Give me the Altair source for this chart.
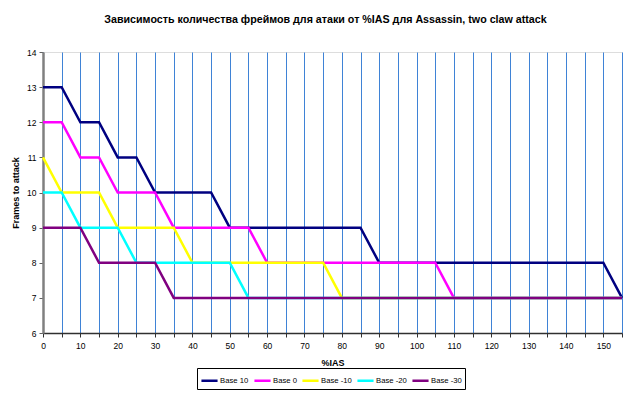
import altair as alt
import pandas as pd

ias = [0, 5, 10, 15, 20, 25, 30, 35, 40, 45, 50, 55, 60, 65, 70, 75,
       80, 85, 90, 95, 100, 105, 110, 115, 120, 125, 130, 135, 140, 145, 150, 155]

base_10 = [13, 13, 12, 12, 11, 11, 10, 10, 10, 10, 9, 9, 9, 9, 9, 9,
           9, 9, 8, 8, 8, 8, 8, 8, 8, 8, 8, 8, 8, 8, 8, 7]
base_0 = [12, 12, 11, 11, 10, 10, 10, 9, 9, 9, 9, 9, 8, 8, 8, 8,
          8, 8, 8, 8, 8, 8, 7, 7, 7, 7, 7, 7, 7, 7, 7, 7]
base_m10 = [11, 10, 10, 10, 9, 9, 9, 9, 8, 8, 8, 8, 8, 8, 8, 8,
            7, 7, 7, 7, 7, 7, 7, 7, 7, 7, 7, 7, 7, 7, 7, 7]
base_m20 = [10, 10, 9, 9, 9, 8, 8, 8, 8, 8, 8, 7, 7, 7, 7, 7,
            7, 7, 7, 7, 7, 7, 7, 7, 7, 7, 7, 7, 7, 7, 7, 7]
base_m30 = [9, 9, 9, 8, 8, 8, 8, 7, 7, 7, 7, 7, 7, 7, 7, 7,
            7, 7, 7, 7, 7, 7, 7, 7, 7, 7, 7, 7, 7, 7, 7, 7]

series_names = ["Base 10", "Base 0", "Base -10", "Base -20", "Base -30"]
series_colors = ["#000080", "#ff00ff", "#ffff00", "#00ffff", "#800080"]
series_values = [base_10, base_0, base_m10, base_m20, base_m30]

rows = []
for name, vals in zip(series_names, series_values):
    for x, y in zip(ias, vals):
        rows.append({"IAS": x, "Frames": y, "Series": name})
df = pd.DataFrame(rows)

FONT = "Liberation Sans"

chart = alt.Chart(df).mark_line(strokeWidth=2.5).encode(
    x=alt.X("IAS:Q",
            scale=alt.Scale(domain=[0, 155], nice=False, zero=False),
            axis=alt.Axis(title="%IAS", values=ias,
                          labelExpr="datum.value % 10 == 0 ? datum.label : ''",
                          grid=True, gridColor="#3f83d6", gridWidth=1,
                          domainColor="#303030", domainWidth=1.5,
                          tickColor="#303030", tickSize=4,
                          labelPadding=4, labelColor="#000000",
                          labelFont=FONT, labelFontSize=8.5,
                          titleFont=FONT, titleFontSize=9, titleFontWeight="bold",
                          titlePadding=9, labelFlush=False)),
    y=alt.Y("Frames:Q",
            scale=alt.Scale(domain=[6, 14], nice=False, zero=False),
            axis=alt.Axis(title="Frames to attack", values=[6, 7, 8, 9, 10, 11, 12, 13, 14],
                          grid=False, domainColor="#808080", domainWidth=2.5,
                          tickColor="#606060", tickSize=4,
                          labelPadding=3, labelColor="#000000",
                          labelFont=FONT, labelFontSize=8.5,
                          titleFont=FONT, titleFontSize=9, titleFontWeight="bold",
                          titlePadding=6)),
    color=alt.Color("Series:N",
                    scale=alt.Scale(domain=series_names, range=series_colors),
                    legend=alt.Legend(title=None, orient="none", legendX=154, legendY=316,
                                      direction="horizontal", columns=5,
                                      symbolType="stroke", symbolStrokeWidth=2.5,
                                      symbolSize=260, labelFont=FONT, labelFontSize=7.7,
                                      labelColor="#000000", labelOffset=1,
                                      columnPadding=0, padding=3,
                                      fillColor="#ffffff", strokeColor="#000000")),
).properties(
    width=579,
    height=281,
    title=alt.TitleParams(
        "Зависимость количества фреймов для атаки от %IAS для Assassin, two claw attack",
        font=FONT, fontSize=10.7, fontWeight="bold", color="#000000",
        anchor="middle", offset=22, dx=-7),
    autosize=alt.AutoSizeParams(type="none"),
    padding={"left": 35, "top": 44, "right": 10, "bottom": 58},
).configure_view(
    fill="#c0c0c0", stroke="#808080", strokeWidth=1.5
).configure(background="#ffffff")

chart.save("out.html", embed_options={"renderer": "svg", "actions": False})
